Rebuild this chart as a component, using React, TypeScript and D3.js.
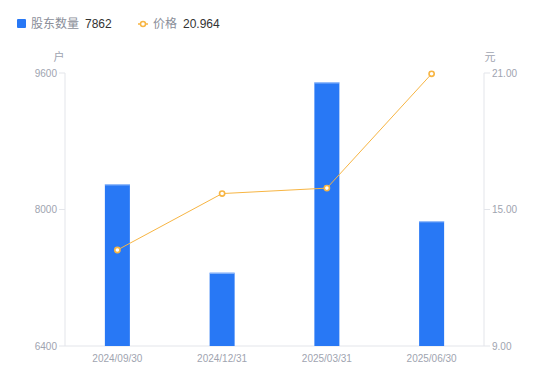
import React from "react";
import * as d3 from "d3";

const categories = ["2024/09/30", "2024/12/31", "2025/03/31", "2025/06/30"];
const holders = [8295, 7259, 9490, 7862];
const prices = [13.22, 15.7, 15.94, 20.964];
const leftTicks = [6400, 8000, 9600];
const rightTicks = [9, 15, 21];

const W = 550;
const H = 381;
const m = { left: 65, right: 66, top: 73, bottom: 35 };

export default function App() {
  const x = d3
    .scaleBand<string>()
    .domain(categories)
    .range([m.left, W - m.right])
    .paddingInner(0)
    .paddingOuter(0);
  const yL = d3.scaleLinear().domain([6400, 9600]).range([H - m.bottom, m.top]);
  const yR = d3.scaleLinear().domain([9, 21]).range([H - m.bottom, m.top]);
  const bw = 25;
  const font = "'Liberation Sans', Arial, 'Noto Sans CJK SC', sans-serif";
  const axisColor = "#e3e5ea";
  const tickText = "#a0a4b0";
  const line = d3
    .line<number>()
    .x((_, i) => x(categories[i])! + x.bandwidth() / 2)
    .y((d) => yR(d));
  const orange = "#F7B543";
  const blue = "#2878F5";
  return (
    <svg width={W} height={H} style={{ position: "absolute", left: 0, top: 0, fontFamily: font }}>
      {/* legend */}
      <rect x={17} y={19} width={9} height={9} rx={1} fill={blue} />
      <text x={31} y={28} fontSize={12} fill="#8a8e99">股东数量</text>
      <text x={85} y={28} fontSize={12} fill="#333">7862</text>
      <line x1={138} y1={24} x2={148} y2={24} stroke={orange} strokeWidth={1.5} />
      <circle cx={143} cy={24} r={2.5} fill="#fff" stroke={orange} strokeWidth={1.5} />
      <text x={153} y={28} fontSize={12} fill="#8a8e99">价格</text>
      <text x={183} y={28} fontSize={12} fill="#333">20.964</text>

      {/* units */}
      <text x={59} y={61} fontSize={11} fill={tickText} textAnchor="middle">户</text>
      <text x={490} y={61} fontSize={11} fill={tickText} textAnchor="middle">元</text>

      {/* left axis */}
      <line x1={m.left} y1={m.top} x2={m.left} y2={H - m.bottom} stroke={axisColor} />
      {leftTicks.map((t) => (
        <g key={t}>
          <line x1={m.left - 6} x2={m.left} y1={yL(t)} y2={yL(t)} stroke={axisColor} />
          <text x={m.left - 8} y={yL(t)} dy="0.35em" fontSize={10} fill={tickText} textAnchor="end">
            {t}
          </text>
        </g>
      ))}
      {/* right axis */}
      <line x1={W - m.right} y1={m.top} x2={W - m.right} y2={H - m.bottom} stroke={axisColor} />
      {rightTicks.map((t) => (
        <g key={t}>
          <line x1={W - m.right} x2={W - m.right + 6} y1={yR(t)} y2={yR(t)} stroke={axisColor} />
          <text x={W - m.right + 8} y={yR(t)} dy="0.35em" fontSize={10} fill={tickText}>
            {t.toFixed(2)}
          </text>
        </g>
      ))}
      {/* bottom axis */}
      <line x1={m.left} x2={W - m.right} y1={H - m.bottom} y2={H - m.bottom} stroke={axisColor} />
      {categories.map((c) => (
        <text
          key={c}
          x={x(c)! + x.bandwidth() / 2}
          y={H - m.bottom + 16}
          fontSize={10}
          fill={tickText}
          textAnchor="middle"
        >
          {c}
        </text>
      ))}

      {/* bars */}
      {holders.map((v, i) => {
        const cx = x(categories[i])! + x.bandwidth() / 2;
        return (
          <g key={i}>
            <rect x={cx - bw / 2} y={yL(v)} width={bw} height={yL(6400) - yL(v)} fill={blue} />
            <line x1={cx - bw / 2} x2={cx + bw / 2} y1={yL(v) + 0.5} y2={yL(v) + 0.5} stroke="#a9c8fa" strokeWidth={1} />
          </g>
        );
      })}

      {/* line */}
      <path d={line(prices)!} fill="none" stroke={orange} strokeWidth={1} />
      {prices.map((p, i) => (
        <circle
          key={i}
          cx={x(categories[i])! + x.bandwidth() / 2}
          cy={yR(p)}
          r={2.6}
          fill="#fff"
          stroke={orange}
          strokeWidth={1.6}
        />
      ))}
    </svg>
  );
}
